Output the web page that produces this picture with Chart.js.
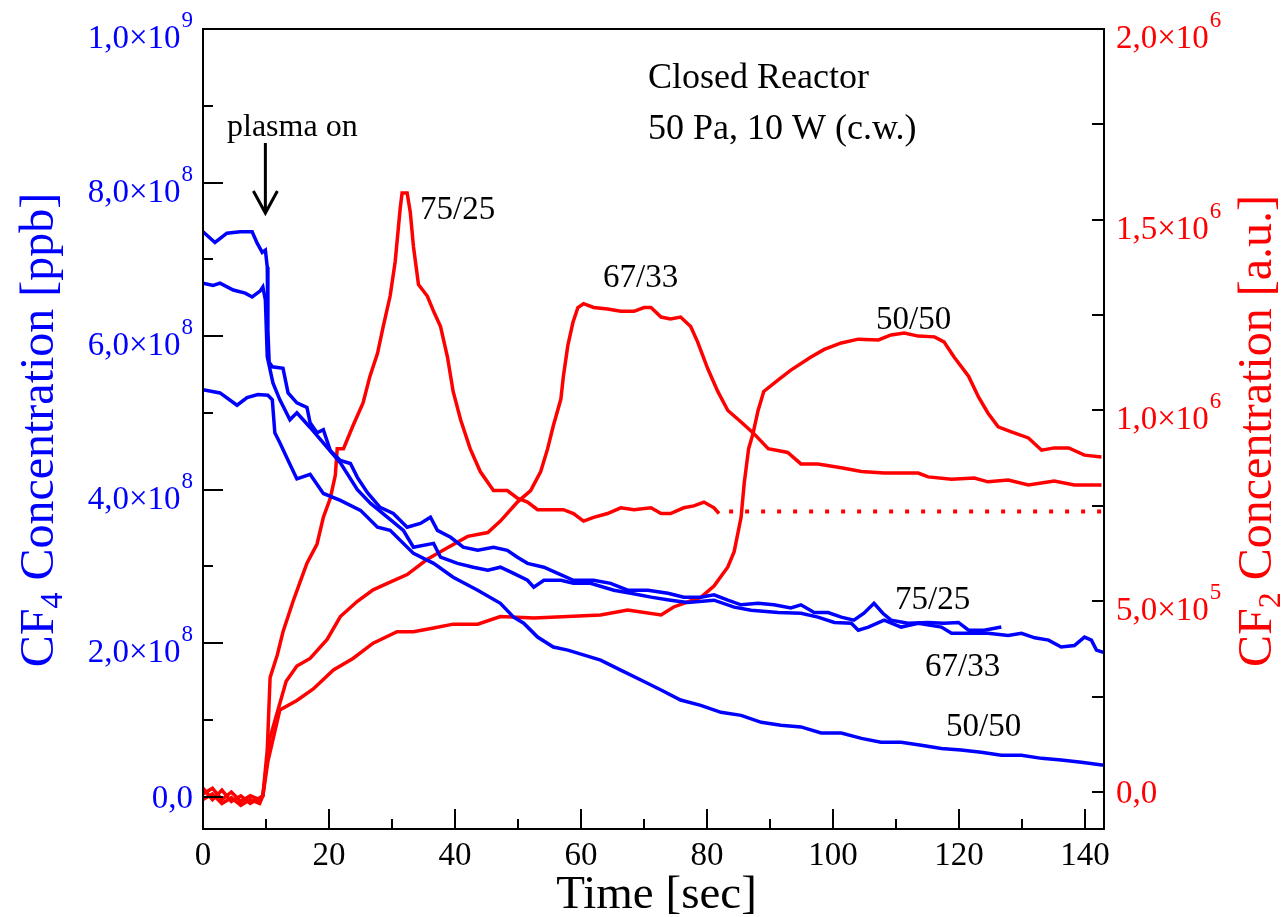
<!DOCTYPE html>
<html>
<head>
<meta charset="utf-8">
<script src="https://cdn.jsdelivr.net/npm/chart.js@4.4.1/dist/chart.umd.min.js"></script>
<style>
  html, body { margin: 0; padding: 0; background: #ffffff; }
  #wrap { width: 1286px; height: 917px; }
</style>
</head>
<body>
<div id="wrap"><canvas id="c" width="1286" height="917"></canvas></div>
<script>
// CF2 signal (units of 1e5 a.u.), [time s, value]
const cf2_7525 = [[0,0.1],[1.5,-0.2],[3,0.05],[4.5,-0.25],[6,-0.1],[7.5,-0.3],[9,-0.15],[9.5,-0.1],[10.2,1.1],[10.65,3.0],[11.8,3.6],[12.7,4.2],[14.3,5.0],[15.4,5.5],[16.5,6.0],[18.1,6.5],[19.1,7.2],[20.2,7.7],[21.0,8.3],[21.3,9.0],[22.3,9.0],[23.8,9.6],[25.4,10.2],[26.5,10.9],[27.7,11.5],[28.6,12.2],[29.7,13.0],[30.5,13.9],[31.3,15.3],[31.6,15.7],[32.4,15.7],[32.9,15.2],[33.4,14.3],[34.2,13.3],[35.6,13.0],[36.6,12.6],[37.7,12.2],[38.8,11.4],[39.7,10.5],[40.9,9.75],[42.4,9.0],[44.0,8.4],[46.1,7.9],[48.3,7.9],[49.9,7.7],[51.5,7.6],[53.1,7.4],[55.2,7.4],[57.2,7.4],[58.8,7.3],[60.4,7.1],[62.0,7.2],[64.2,7.3],[66.3,7.45],[68.4,7.4],[71.1,7.45],[72.7,7.3],[74.2,7.3],[76.3,7.45],[77.9,7.5],[79.5,7.6],[81.1,7.45],[81.9,7.3]];
const cf2_7525_level = [[83.5,7.35],[143,7.35]];
const cf2_6733 = [[0,-0.05],[1.5,0.1],[3,-0.2],[4.5,0],[6,-0.25],[7.5,-0.1],[9,-0.2],[9.5,-0.1],[10.6,1.4],[13.2,2.9],[14.9,3.3],[17.0,3.5],[19.7,4.0],[21.8,4.6],[24.5,5.0],[27.0,5.3],[29.7,5.5],[32.4,5.7],[35.6,6.1],[38.8,6.4],[42.0,6.7],[45.2,6.8],[47.2,7.1],[49.9,7.6],[52.0,7.9],[53.6,8.4],[54.7,9.0],[55.6,9.6],[56.8,10.3],[57.2,10.9],[57.9,11.7],[58.7,12.3],[59.5,12.7],[60.4,12.8],[62.0,12.7],[64.2,12.66],[66.3,12.6],[68.4,12.6],[70.0,12.7],[71.1,12.7],[72.7,12.45],[74.2,12.4],[75.8,12.45],[77.4,12.2],[78.5,11.8],[80.1,11.1],[81.7,10.5],[83.3,10.0],[85.4,9.7],[87.4,9.4],[89.7,9.0],[92.8,8.9],[94.9,8.6],[97.6,8.6],[101.3,8.5],[104.5,8.4],[108.1,8.36],[113.5,8.36],[115.1,8.26],[118.8,8.2],[122.4,8.23],[124.6,8.13],[127.8,8.18],[131.0,8.05],[135.1,8.15],[138.3,8.05],[142.6,8.05]];
const cf2_5050 = [[0,-0.2],[1.5,-0.05],[3,-0.3],[4.5,-0.15],[6,-0.35],[7.5,-0.2],[9,-0.3],[9.5,-0.1],[10.3,0.8],[12.2,2.15],[14.9,2.4],[17.5,2.7],[20.7,3.2],[23.8,3.5],[27.0,3.9],[30.8,4.2],[33.4,4.2],[36.6,4.3],[39.7,4.4],[43.6,4.4],[47.2,4.6],[52.5,4.56],[57.9,4.6],[63.1,4.64],[67.4,4.77],[72.7,4.64],[74.7,4.85],[76.9,4.98],[79.0,5.1],[81.1,5.4],[83.3,5.9],[84.3,6.3],[85.4,7.2],[85.9,8.1],[86.6,9.0],[87.3,9.4],[88.1,10.0],[89.0,10.5],[91.3,10.8],[93.3,11.06],[96.5,11.4],[98.6,11.6],[101.3,11.77],[104.0,11.87],[107.2,11.85],[109.2,11.98],[111.3,12.03],[113.5,11.95],[116.1,11.93],[117.6,11.8],[119.2,11.4],[121.5,10.9],[123.1,10.35],[124.6,9.93],[126.2,9.57],[128.3,9.44],[131.0,9.28],[133.1,8.96],[135.1,9.02],[137.4,9.02],[139.9,8.83],[142.6,8.78]];

// CF4 concentration (units of 1e8 ppb), [time s, value]
const cf4_7525 = [[0,7.36],[1.9,7.22],[3.8,7.34],[5.9,7.36],[7.8,7.36],[8.6,7.21],[9.4,7.09],[9.9,7.12],[10.2,6.9],[10.3,6.08],[10.5,5.66],[11.0,5.6],[12.7,5.58],[13.5,5.26],[14.9,5.13],[16.5,5.07],[17.0,4.87],[18.1,4.74],[19.1,4.78],[20.2,4.51],[21.8,4.38],[23.4,4.34],[24.5,4.16],[26.1,3.96],[28.1,3.77],[30.2,3.69],[32.4,3.51],[34.5,3.56],[36.1,3.64],[37.2,3.47],[39.3,3.38],[41.3,3.25],[43.6,3.21],[46.1,3.25],[48.3,3.21],[49.9,3.12],[51.5,3.04],[54.1,2.99],[56.3,2.91],[58.8,2.82],[62.0,2.82],[64.7,2.78],[67.4,2.69],[70.6,2.69],[73.8,2.65],[76.3,2.6],[79.0,2.6],[81.1,2.63],[83.3,2.56],[85.4,2.5],[88.1,2.52],[90.6,2.5],[93.3,2.46],[94.9,2.5],[97.0,2.4],[99.2,2.4],[101.3,2.34],[103.3,2.3],[104.9,2.39],[106.5,2.52],[107.9,2.39],[109.2,2.3],[111.9,2.26],[115.1,2.27],[117.6,2.26],[119.9,2.27],[121.5,2.17],[124.0,2.17],[126.7,2.21]];
const cf4_6733 = [[0,6.69],[1.6,6.66],[2.7,6.69],[4.8,6.6],[6.7,6.56],[7.8,6.51],[9.1,6.59],[9.5,6.64],[9.9,6.47],[10.2,5.73],[11.1,5.39],[12.2,5.17],[13.8,4.91],[14.9,5.0],[17.0,4.81],[19.7,4.55],[21.8,4.35],[24.5,4.0],[26.6,3.82],[29.3,3.64],[31.8,3.47],[33.4,3.25],[36.6,3.3],[37.7,3.12],[40.4,3.04],[42.9,2.99],[45.2,2.95],[47.2,2.99],[49.3,2.91],[51.5,2.82],[52.5,2.73],[54.1,2.82],[56.8,2.82],[58.8,2.78],[61.5,2.78],[65.2,2.69],[67.9,2.65],[71.1,2.6],[74.2,2.56],[76.9,2.53],[81.1,2.56],[84.3,2.47],[87.0,2.43],[91.3,2.4],[94.9,2.39],[97.6,2.34],[100.2,2.27],[102.9,2.26],[104.0,2.17],[105.6,2.21],[108.1,2.3],[110.8,2.21],[113.5,2.26],[117.2,2.21],[118.8,2.13],[121.5,2.13],[124.6,2.13],[127.8,2.1],[129.9,2.13],[132.0,2.07],[134.2,2.04],[136.2,1.95],[138.3,1.97],[139.9,2.08],[141.0,2.04],[141.8,1.91],[142.9,1.88]];
const cf4_5050 = [[0,5.3],[2.7,5.26],[5.4,5.1],[7.0,5.2],[8.7,5.24],[10.3,5.23],[11.0,5.17],[11.4,4.74],[12.2,4.61],[13.4,4.4],[14.9,4.14],[17.0,4.2],[19.1,3.95],[21.8,3.86],[25.0,3.73],[27.7,3.51],[29.7,3.47],[33.4,3.17],[36.6,3.04],[39.7,2.86],[43.6,2.69],[47.2,2.52],[49.3,2.34],[50.9,2.26],[53.1,2.08],[55.6,1.95],[57.9,1.91],[63.1,1.78],[66.3,1.65],[69.5,1.52],[72.7,1.39],[75.8,1.26],[79.0,1.19],[82.2,1.1],[85.4,1.06],[88.6,0.97],[91.7,0.93],[94.9,0.91],[98.1,0.83],[101.3,0.83],[104.5,0.76],[107.6,0.71],[110.8,0.71],[114.0,0.67],[117.2,0.63],[120.3,0.61],[123.5,0.58],[126.7,0.54],[129.9,0.54],[133.1,0.5],[136.2,0.48],[139.4,0.45],[143.0,0.41]];

// Axis tick labels: [value, mantissa text, exponent]
const timeTicks = [0, 20, 40, 60, 80, 100, 120, 140];
const cf4Ticks = [[0,'0,0',''],[2,'2,0\u00d710','8'],[4,'4,0\u00d710','8'],[6,'6,0\u00d710','8'],[8,'8,0\u00d710','8'],[10,'1,0\u00d710','9']];
const cf2Ticks = [[0,'0,0',''],[5,'5,0\u00d710','5'],[10,'1,0\u00d710','6'],[15,'1,5\u00d710','6'],[20,'2,0\u00d710','6']];
const mixLabels = ['75/25', '67/33', '50/50'];

const BLUE = '#0000ff';
const RED = '#ff0000';
const SERIF = '"Liberation Serif", "DejaVu Serif", "Times New Roman", serif';

const toXY = arr => arr.map(p => ({ x: p[0], y: p[1] }));
function line(arr, color, axis, extra) {
  return Object.assign({
    data: toXY(arr), borderColor: color, backgroundColor: color,
    borderWidth: 3.5, pointRadius: 0, showLine: true, tension: 0,
    fill: false, yAxisID: axis, borderJoinStyle: 'miter'
  }, extra || {});
}

function drawLabel(ctx, main, sup, x, yTick, align, color) {
  ctx.fillStyle = color;
  ctx.textBaseline = 'alphabetic';
  ctx.textAlign = 'left';
  ctx.font = '33px ' + SERIF;
  const wMain = ctx.measureText(main).width;
  ctx.font = '23px ' + SERIF;
  const wSup = sup ? ctx.measureText(sup).width + 1 : 0;
  const x0 = align === 'right' ? x - wMain - wSup : x;
  ctx.font = '33px ' + SERIF;
  if (sup) {
    ctx.fillText(main, x0, yTick + 19);
    ctx.font = '23px ' + SERIF;
    ctx.fillText(sup, x0 + wMain + 1, yTick - 2);
  } else {
    ctx.fillText(main, x0, yTick + 11);
  }
}

// Rotated axis title with a subscript after the first part
function drawRotTitle(ctx, a, sub, b, cx, cy, color) {
  ctx.save();
  ctx.translate(cx, cy);
  ctx.rotate(-Math.PI / 2);
  ctx.fillStyle = color;
  ctx.textBaseline = 'alphabetic';
  ctx.textAlign = 'left';
  ctx.font = '48px ' + SERIF;
  const wa = ctx.measureText(a).width;
  const wb = ctx.measureText(b).width;
  ctx.font = '32px ' + SERIF;
  const ws = ctx.measureText(sub).width;
  const total = wa + ws + wb;
  let x = -total / 2;
  ctx.font = '48px ' + SERIF;
  ctx.fillText(a, x, 0);
  x += wa;
  ctx.font = '32px ' + SERIF;
  ctx.fillText(sub, x, 9);
  x += ws;
  ctx.font = '48px ' + SERIF;
  ctx.fillText(b, x, 0);
  ctx.restore();
}

const decor = {
  id: 'decor',
  afterDraw(chart) {
    const ctx = chart.ctx;
    const a = chart.chartArea;
    const sx = chart.scales.x, sy = chart.scales.y, sy2 = chart.scales.y2;
    ctx.save();

    // frame
    ctx.strokeStyle = '#000';
    ctx.lineWidth = 2;
    ctx.strokeRect(a.left, a.top, a.right - a.left, a.bottom - a.top);

    // inward tick marks
    ctx.beginPath();
    for (let t = 0; t <= 140; t += 10) {
      const px = Math.round(sx.getPixelForValue(t));
      const len = t % 20 === 0 ? 20 : 10;
      ctx.moveTo(px, a.bottom); ctx.lineTo(px, a.bottom - len);
    }
    for (let v = 0; v <= 10; v += 1) {
      const py = Math.round(sy.getPixelForValue(v));
      const len = v % 2 === 0 ? 20 : 10;
      ctx.moveTo(a.left, py); ctx.lineTo(a.left + len, py);
    }
    for (let v = 0; v <= 20; v += 2.5) {
      const py = Math.round(sy2.getPixelForValue(v));
      ctx.moveTo(a.right, py); ctx.lineTo(a.right - 12, py);
    }
    ctx.stroke();

    // tick labels
    ctx.fillStyle = '#000';
    ctx.font = '33px ' + SERIF;
    ctx.textAlign = 'center';
    ctx.textBaseline = 'alphabetic';
    timeTicks.forEach(t => ctx.fillText(String(t), sx.getPixelForValue(t), 865));
    cf4Ticks.forEach(k => drawLabel(ctx, k[1], k[2], 193, sy.getPixelForValue(k[0]), 'right', BLUE));
    cf2Ticks.forEach(k => drawLabel(ctx, k[1], k[2], 1116, sy2.getPixelForValue(k[0]), 'left', RED));

    // axis titles
    ctx.fillStyle = '#000';
    ctx.font = '47px ' + SERIF;
    ctx.textAlign = 'center';
    ctx.fillText('Time [sec]', (a.left + a.right) / 2 + 3, 908);
    drawRotTitle(ctx, 'CF', '4', ' Concentration [ppb]', 53, 430, BLUE);
    drawRotTitle(ctx, 'CF', '2', ' Concentration [a.u.]', 1271, 431, RED);

    // header text
    ctx.fillStyle = '#000';
    ctx.textAlign = 'left';
    ctx.font = '36px ' + SERIF;
    ctx.fillText('Closed Reactor', 648, 88);
    ctx.fillText('50 Pa, 10 W (c.w.)', 648, 139);

    // plasma-on marker
    ctx.font = '32px ' + SERIF;
    ctx.fillText('plasma on', 227, 136);
    const ax = sx.getPixelForValue(9.9);
    ctx.strokeStyle = '#000';
    ctx.lineWidth = 3;
    ctx.beginPath();
    ctx.moveTo(ax, 143); ctx.lineTo(ax, 213);
    ctx.moveTo(ax - 12, 191); ctx.lineTo(ax, 213); ctx.lineTo(ax + 12, 191);
    ctx.stroke();

    // curve labels
    ctx.font = '33px ' + SERIF;
    ctx.textBaseline = 'middle';
    ctx.fillText(mixLabels[0], 420, 210);
    ctx.fillText(mixLabels[1], 603, 278);
    ctx.fillText(mixLabels[2], 876, 320);
    ctx.fillText(mixLabels[0], 895, 600);
    ctx.fillText(mixLabels[1], 925, 667);
    ctx.fillText(mixLabels[2], 946, 727);
    ctx.restore();
  }
};

new Chart(document.getElementById('c'), {
  type: 'scatter',
  data: {
    datasets: [
      line(cf4_7525, BLUE, 'y'),
      line(cf4_6733, BLUE, 'y'),
      line(cf4_5050, BLUE, 'y'),
      line(cf2_7525, RED, 'y2'),
      line(cf2_7525_level, RED, 'y2', { borderWidth: 4, borderDash: [4, 12] }),
      line(cf2_6733, RED, 'y2'),
      line(cf2_5050, RED, 'y2')
    ]
  },
  options: {
    responsive: false,
    devicePixelRatio: 1,
    animation: false,
    layout: { padding: { top: 29, left: 0, right: 0, bottom: 0 } },
    plugins: { legend: { display: false }, tooltip: { enabled: false } },
    scales: {
      x: {
        type: 'linear', min: 0, max: 143,
        grid: { display: false }, border: { display: false }, ticks: { display: false },
        afterFit(s) { s.height = 88; }
      },
      y: {
        type: 'linear', position: 'left', min: -0.42, max: 10,
        grid: { display: false }, border: { display: false }, ticks: { display: false },
        afterFit(s) { s.width = 203; }
      },
      y2: {
        type: 'linear', position: 'right', min: -0.97, max: 20,
        grid: { display: false }, border: { display: false }, ticks: { display: false },
        afterFit(s) { s.width = 182; }
      }
    }
  },
  plugins: [decor]
});
</script>
</body>
</html>
